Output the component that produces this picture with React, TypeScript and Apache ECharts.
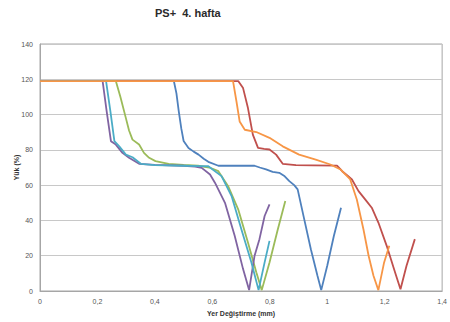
import React, { useEffect, useRef } from "react";
import * as echarts from "echarts";

const seriesNames = ["Seri 1", "Seri 2", "Seri 3", "Seri 4", "Seri 5", "Seri 6"];
const seriesColors = ["#4F81BD", "#C0504D", "#9BBB59", "#8064A2", "#4BACC6", "#F79646"];

const blueData = [[0,119],[0.466,119],[0.475,112],[0.483,102],[0.492,92],[0.5,85],[0.517,81],[0.535,79],[0.552,77.3],[0.57,75],[0.586,73.2],[0.621,71],[0.66,71],[0.7,71],[0.747,71],[0.765,70],[0.787,68.9],[0.81,67.5],[0.833,67],[0.852,65],[0.868,62.3],[0.885,60],[0.897,57.6],[0.92,40.6],[0.943,23.7],[0.966,8.6],[0.979,0.5],[1.0,14.3],[1.023,31.2],[1.048,47.2]];
const redData = [[0,119],[0.69,119],[0.707,115],[0.724,103.7],[0.741,88.6],[0.759,81.1],[0.78,80.5],[0.799,80.2],[0.822,77.3],[0.845,72.1],[0.891,71.3],[0.95,71.2],[1.034,71.1],[1.052,67.9],[1.07,65.5],[1.086,63.2],[1.109,56.6],[1.132,51.9],[1.155,47.2],[1.178,38.8],[1.207,25.6],[1.236,10.6],[1.255,1],[1.276,14.3],[1.305,29.4]];
const greenData = [[0,119],[0.264,119],[0.28,110],[0.299,98],[0.31,91],[0.322,85.8],[0.345,83],[0.362,78.3],[0.38,75.5],[0.402,73.6],[0.448,72.1],[0.5,71.5],[0.55,71],[0.59,70],[0.621,67.9],[0.655,59.4],[0.69,46.3],[0.724,27.5],[0.753,10.6],[0.772,0.5],[0.799,16.2],[0.828,35],[0.854,51]];
const purpleData = [[0,119],[0.218,119],[0.232,102],[0.247,84.9],[0.264,83],[0.287,78.3],[0.31,75.5],[0.345,72.1],[0.4,71.5],[0.5,71],[0.54,70.5],[0.563,69.8],[0.592,66],[0.609,61.4],[0.644,50],[0.678,31.2],[0.707,12.4],[0.728,0.5],[0.747,20],[0.764,29.4],[0.782,42.5],[0.799,49.1]];
const aquaData = [[0,119],[0.23,119],[0.245,102],[0.259,84.9],[0.276,82],[0.299,77.3],[0.322,75.8],[0.351,72.1],[0.4,71.3],[0.5,71],[0.56,70.8],[0.586,70.7],[0.632,65.1],[0.667,53.8],[0.701,35],[0.736,16.2],[0.761,0.5],[0.782,16.2],[0.799,28.4]];
const orangeData = [[0,119],[0.672,119],[0.684,107.4],[0.695,96.1],[0.713,91.4],[0.753,90.1],[0.799,86.8],[0.845,82],[0.902,77.3],[0.96,74.5],[1.011,71.7],[1.046,68.9],[1.08,63.2],[1.103,51.9],[1.126,35],[1.144,20],[1.161,8.6],[1.178,0.5],[1.198,16.2],[1.216,25.6]];

const allData = [blueData, redData, greenData, purpleData, aquaData, orangeData];

const titleText = "PS+  4. hafta";
const xAxisName = "Yer Değiştirme (mm)";
const yAxisName = "Yük (%)";

export default function App() {
  const ref = useRef<HTMLDivElement>(null);
  useEffect(() => {
    if (!ref.current) return;
    const chart = echarts.init(ref.current, null, { renderer: "svg" });
    const font = "Liberation Sans, Arial, sans-serif";
    chart.setOption({
      animation: false,
      backgroundColor: "#ffffff",
      title: {
        text: titleText,
        left: 150,
        top: 2,
        textStyle: { fontSize: 11, fontWeight: "bold", color: "#2a2a2a", fontFamily: font },
      },
      grid: {
        left: 40,
        right: 4,
        top: 44,
        bottom: 30,
        show: true,
        borderColor: "#a6a6a6",
        borderWidth: 1,
      },
      xAxis: {
        type: "value",
        min: 0,
        max: 1.4,
        interval: 0.2,
        name: xAxisName,
        nameLocation: "middle",
        nameGap: 19,
        nameMoveOverlap: false,
        nameTextStyle: { fontSize: 7, fontWeight: "bold", color: "#333", fontFamily: font },
        axisLine: { show: true, lineStyle: { color: "#a6a6a6" } },
        axisTick: { show: false },
        splitLine: { show: false },
        axisLabel: {
          fontSize: 7,
          color: "#555",
          margin: 7,
          fontFamily: font,
          formatter: (v: number) => String(Math.round(v * 10) / 10).replace(".", ","),
        },
      },
      yAxis: {
        type: "value",
        min: 0,
        max: 140,
        interval: 20,
        name: yAxisName,
        nameLocation: "middle",
        nameGap: 20,
        nameMoveOverlap: false,
        nameTextStyle: { fontSize: 7, fontWeight: "bold", color: "#333", fontFamily: font },
        axisLine: { show: true, lineStyle: { color: "#a6a6a6" } },
        axisTick: { show: false },
        splitLine: { show: true, lineStyle: { color: "#c8c8c8", width: 1 } },
        axisLabel: { fontSize: 7, color: "#555", margin: 7, fontFamily: font },
      },
      series: allData.map((d, i) => ({
        name: seriesNames[i],
        type: "line",
        data: d,
        showSymbol: false,
        symbol: "none",
        lineStyle: { width: 1.8, color: seriesColors[i] },
        itemStyle: { color: seriesColors[i] },
        z: 2 + i,
      })),
    });
    return () => chart.dispose();
  }, []);
  return (
    <div
      ref={ref}
      style={{ position: "fixed", left: 0, top: 0, width: 450, height: 322 }}
    />
  );
}
